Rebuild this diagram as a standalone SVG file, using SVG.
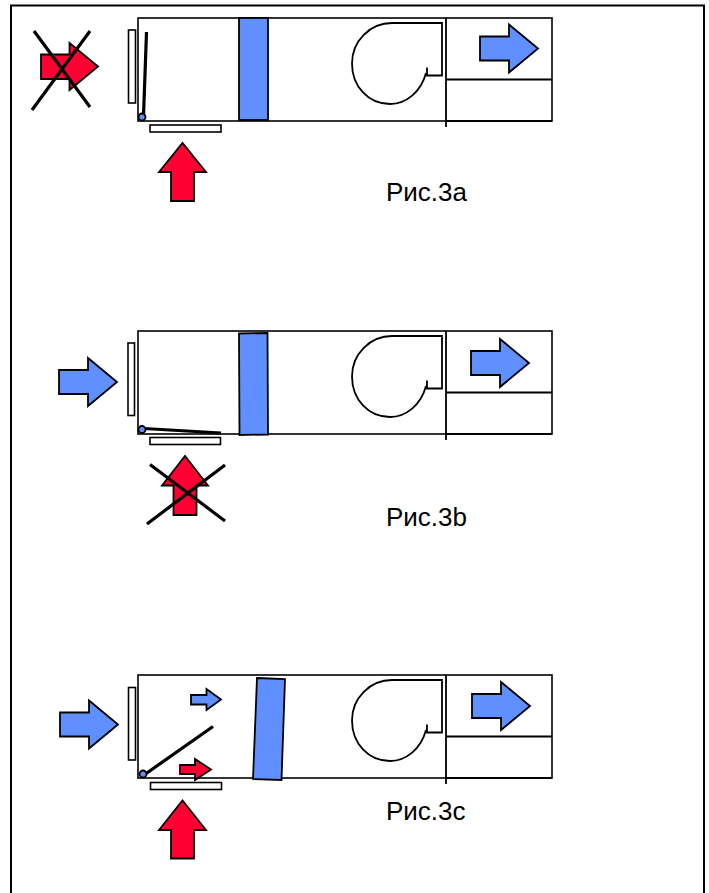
<svg xmlns="http://www.w3.org/2000/svg" width="709" height="893" viewBox="0 0 709 893">
<style>
.l{fill:none;stroke:#000;stroke-width:1.8}
.w{fill:#fff;stroke:#000;stroke-width:1.6}
.b{fill:#6090ff;stroke:#000;stroke-width:1.8;stroke-linejoin:miter}
.r{fill:#ff0033;stroke:#000;stroke-width:1.8}
.x{fill:none;stroke:#000;stroke-width:3.2}
.t{font-family:"Liberation Sans",Arial,sans-serif;font-size:26px;fill:#000}
</style>
<defs>
<g id="fan"><path class="l" d="M427 67.500V75.500H442V23H392C370 23 352 41 352 63.500C352 86 368 104 390 104C406 104 421 92 426 73"/></g>
<g id="unit">
<rect class="w" x="138" y="18" width="414" height="103"/>
<path class="l" d="M446 18V127M446 79.500H552"/>
<path class="l" d="M446 121H552"/>
</g>
<path id="arrow" d="M0 -12H29V-24L58 0L29 24V12H0Z"/>
</defs>
<rect id="frame" x="11" y="5.500" width="693" height="900" fill="#fff" stroke="#000" stroke-width="2"/>
<g id="fig-a">
<use href="#unit"/>
<use href="#fan"/>
<rect class="b" x="239" y="18" width="29" height="102"/>
<rect class="w" x="128.500" y="30" width="7" height="73"/>
<rect class="w" x="150" y="125" width="71" height="7"/>
<path d="M146.500 32L143.500 116" class="x"/>
<circle class="b" cx="142" cy="117" r="3.500" stroke-width="1.200"/>
<use href="#arrow" class="b" x="480" y="48.500"/>
<path class="r" d="M41 54.500H69.500V43L98 66.500L69.500 90V79H41Z"/>
<path class="r" d="M171 201H194V172H206L182.500 143L159 172H171Z"/>
<path class="x" d="M34 31L90 107M90 31L32 110"/>
</g>
<g id="fig-b">
<use href="#unit" y="313"/>
<use href="#fan" y="313"/>
<path class="b" d="M239 333.500L267.500 333L268 434.500L239.500 435Z"/>
<rect class="w" x="128" y="343" width="6.500" height="72.500"/>
<rect class="w" x="150" y="437.500" width="70.500" height="7"/>
<path class="x" d="M144 428.500L221 433"/>
<circle class="b" cx="142" cy="429.500" r="3.500" stroke-width="1.200"/>
<use href="#arrow" class="b" x="471" y="363"/>
<use href="#arrow" class="b" x="59" y="382"/>
<path class="r" d="M173.500 515H196.500V485.500H208L185 456L162 485.500H173.500Z"/>
<path class="x" d="M150 464.500L225 521M225 465L147 524"/>
</g>
<g id="fig-c">
<use href="#unit" y="657"/>
<use href="#fan" y="657"/>
<path class="b" d="M257 678L285 679L281.500 780L253 779Z"/>
<rect class="w" x="128.500" y="687.500" width="7" height="72.500"/>
<rect class="w" x="150.500" y="782.500" width="71" height="7"/>
<path class="x" d="M144 775L213 726.500"/>
<circle class="b" cx="143" cy="774" r="3.500" stroke-width="1.200"/>
<path class="b" d="M191 695H206.500V689L221 699.500L206.500 710V704.500H191Z"/>
<path class="r" d="M180 765H195V759L211 769.500L195 780V774H180Z"/>
<use href="#arrow" class="b" x="472" y="706"/>
<use href="#arrow" class="b" x="60" y="724.500"/>
<path class="r" d="M171 858.500H194V830H206L182.500 800.500L159 830H171Z"/>
</g>
<g id="labels">
<text class="t" x="386" y="201">Рис.3a</text>
<text class="t" x="386" y="526">Рис.3b</text>
<text class="t" x="386" y="820">Рис.3c</text>
</g>
</svg>
